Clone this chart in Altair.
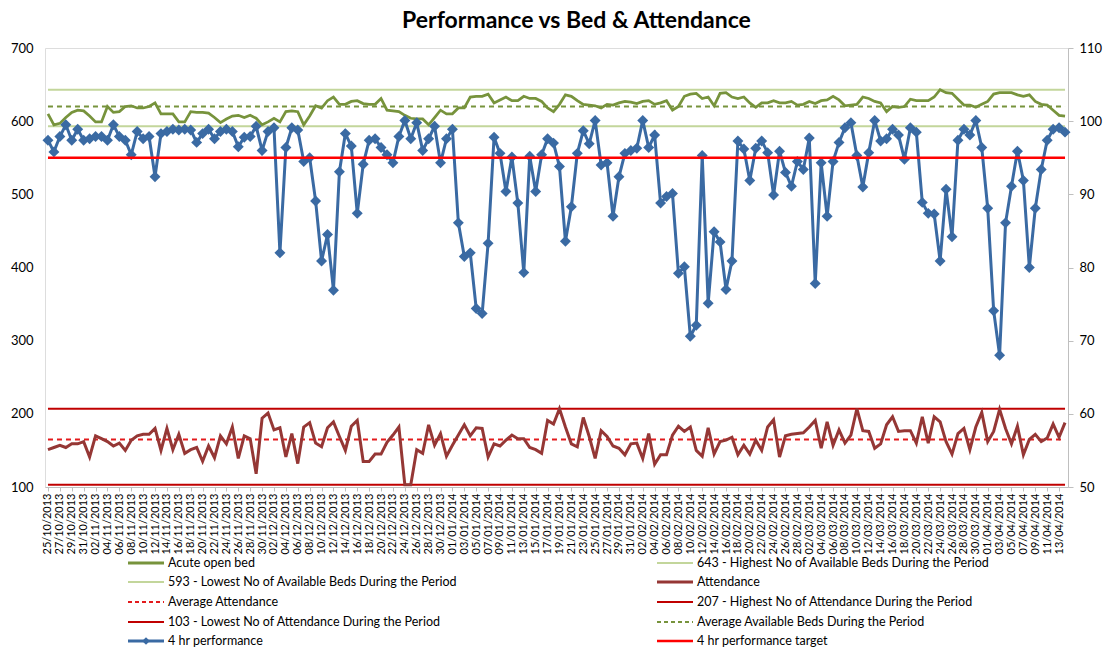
import altair as alt
import pandas as pd

# ---------------- data ----------------
dates = pd.date_range("2013-10-25", "2014-04-14", freq="D").strftime("%d/%m/%Y").tolist()

acute_open_bed = [
    610, 595, 597, 605, 612, 615, 614, 607, 599, 599,
    620, 612, 613, 620, 621, 618, 618, 620, 625, 610,
    610, 610, 599, 599, 613, 612, 612, 611, 605, 598,
    603, 607, 608, 605, 608, 604, 595, 599, 604, 599,
    613, 614, 613, 595, 607, 621, 618, 628, 633, 623,
    623, 627, 628, 624, 623, 623, 631, 615, 614, 613,
    608, 604, 603, 603, 595, 605, 615, 610, 610, 618,
    618, 633, 634, 634, 637, 625, 629, 633, 628, 628,
    634, 631, 631, 627, 618, 613, 623, 636, 634, 628,
    623, 622, 621, 618, 623, 622, 625, 627, 626, 624,
    627, 628, 623, 625, 628, 615, 620, 634, 637, 638,
    631, 633, 621, 638, 639, 633, 631, 633, 625, 619,
    625, 625, 628, 625, 625, 627, 622, 623, 627, 624,
    628, 629, 634, 629, 621, 622, 623, 633, 631, 627,
    625, 613, 620, 619, 620, 630, 628, 628, 628, 633,
    643, 639, 638, 630, 622, 622, 619, 623, 627, 637,
    639, 639, 639, 636, 634, 636, 627, 623, 622, 615,
    608, 607,
]

attendance = [
    151, 154, 157, 154, 159, 159, 162, 141, 170, 166,
    162, 156, 160, 150, 164, 170, 172, 172, 180, 150,
    180, 151, 172, 146, 151, 154, 135, 156, 140, 170,
    159, 182, 139, 170, 166, 118, 194, 201, 178, 181,
    141, 173, 132, 182, 188, 160, 155, 181, 189, 169,
    150, 183, 191, 135, 135, 145, 145, 161, 171, 182,
    103, 103, 151, 146, 185, 157, 173, 142, 157, 171,
    185, 170, 181, 180, 141, 159, 156, 164, 171, 166,
    166, 154, 151, 146, 191, 186, 207, 182, 159, 155,
    195, 169, 139, 177, 169, 156, 153, 144, 159, 160,
    139, 173, 131, 144, 144, 171, 183, 176, 182, 150,
    142, 181, 145, 162, 164, 168, 144, 157, 145, 164,
    150, 182, 192, 141, 170, 172, 173, 174, 182, 191,
    153, 189, 157, 178, 160, 171, 207, 177, 176, 153,
    159, 185, 196, 176, 177, 177, 160, 196, 160, 196,
    189, 162, 145, 173, 180, 151, 182, 202, 162, 176,
    206, 180, 159, 183, 144, 165, 172, 162, 167, 186,
    168, 188,
]

performance_4hr = [
    97.4, 95.8, 97.9, 99.5, 97.4, 98.9, 97.4, 97.6, 97.9, 97.9,
    97.4, 99.5, 97.9, 97.4, 95.4, 98.6, 97.6, 97.9, 92.4, 98.3,
    98.6, 98.9, 98.8, 98.9, 98.8, 97.1, 98.3, 98.9, 97.6, 98.6,
    98.9, 98.6, 96.5, 97.8, 97.9, 99.3, 96.0, 98.6, 99.1, 82.0,
    96.4, 99.1, 98.8, 94.5, 95.0, 89.1, 80.9, 84.5, 76.9, 93.1,
    98.3, 96.6, 87.4, 94.1, 97.4, 97.6, 96.4, 95.4, 94.3, 97.9,
    100.1, 97.6, 99.8, 96.0, 97.6, 99.3, 94.3, 97.6, 98.9, 86.1,
    81.5, 82.0, 74.4, 73.7, 83.3, 97.8, 95.6, 90.4, 95.1, 88.8,
    79.3, 95.2, 90.4, 95.4, 97.6, 97.0, 93.8, 83.6, 88.3, 95.6,
    98.7, 96.9, 100.1, 94.0, 94.3, 87.0, 92.4, 95.6, 96.0, 96.3,
    100.1, 96.4, 98.1, 88.8, 89.7, 90.1, 79.2, 80.1, 70.6, 72.1,
    95.3, 75.1, 84.9, 83.5, 77.0, 80.9, 97.3, 96.2, 91.9, 96.3,
    97.3, 95.7, 89.9, 95.9, 93.0, 91.1, 94.5, 93.4, 97.7, 77.8,
    94.3, 87.0, 94.5, 97.1, 99.1, 99.8, 95.3, 91.0, 95.7, 100.1,
    97.3, 97.6, 98.9, 98.1, 94.8, 99.1, 98.5, 88.9, 87.4, 87.3,
    80.9, 90.7, 84.2, 97.4, 98.9, 98.1, 100.1, 96.4, 88.1, 74.1,
    68.0, 86.1, 91.1, 95.9, 91.9, 80.0, 88.1, 93.4, 97.4, 98.9,
    99.1, 98.5,
]

BEDS_HIGH = 643
BEDS_LOW = 593
BEDS_AVG = 620
ATT_HIGH = 207
ATT_LOW = 103
ATT_AVG = 165
PERF_TARGET = 95

left_ticks = [100, 200, 300, 400, 500, 600, 700]
right_ticks = [50, 60, 70, 80, 90, 100, 110]

legend_labels = [
    "Acute open bed",
    "643 - Highest No of Available Beds During the Period",
    "593 - Lowest No of Available Beds During the Period",
    "Attendance",
    "Average Attendance",
    "207 - Highest No of Attendance During the Period",
    "103 - Lowest No of Attendance During the Period",
    "Average Available Beds During the Period",
    "4 hr performance",
    "4 hr performance target",
]

# ---------------- styles ----------------
FONT = "Lato"
C_BED = "#77933C"
C_BED_LIM = "#C3D69B"
C_ATT = "#953735"
C_ATT_LIM = "#C00000"
C_ATT_AVG = "#E31A1C"
C_PERF = "#3A6AA3"
C_TARGET = "#FF0000"

df = pd.DataFrame({
    "date": dates,
    "beds": acute_open_bed,
    "att": attendance,
    "perf": performance_4hr,
})

W, H = 1023, 439

x_enc = alt.X(
    "date:O",
    sort=dates,
    title=None,
    scale=alt.Scale(type="point", padding=0.5),
    axis=alt.Axis(
        values=dates[::2], labelAngle=-90, labelFont=FONT, labelFontSize=11,
        labelColor="#000000", domainColor="#BFBFBF", tickColor="#BFBFBF",
        tickSize=4, labelPadding=2, grid=False,
    ),
)

left_scale = alt.Scale(domain=[100, 700], nice=False, zero=False)
left_axis = alt.Axis(
    values=left_ticks, labelFont=FONT, labelFontSize=13, labelColor="#000000",
    domain=False, ticks=False, grid=False, labelPadding=12,
)
right_scale = alt.Scale(domain=[50, 110], nice=False, zero=False)
right_axis = alt.Axis(
    orient="right", values=right_ticks, labelFont=FONT, labelFontSize=13,
    labelColor="#000000", domainColor="#BFBFBF", tickColor="#BFBFBF",
    tickSize=5, grid=False, labelPadding=6,
)

base = alt.Chart(df)


def yl(field):
    return alt.Y(field, title=None, scale=left_scale, axis=left_axis)


def yl_const(v):
    return alt.YDatum(v, title=None, scale=left_scale, axis=left_axis)


def yr(field):
    return alt.Y(field, title=None, scale=right_scale, axis=right_axis)


def yr_const(v):
    return alt.YDatum(v, title=None, scale=right_scale, axis=right_axis)


left_layers = [
    base.mark_line(color=C_BED_LIM, strokeWidth=2).encode(x=x_enc, y=yl_const(BEDS_HIGH)),
    base.mark_line(color=C_BED_LIM, strokeWidth=2).encode(x=x_enc, y=yl_const(BEDS_LOW)),
    base.mark_line(color=C_BED, strokeWidth=2, strokeDash=[5, 4]).encode(x=x_enc, y=yl_const(BEDS_AVG)),
    base.mark_line(color=C_BED, strokeWidth=2.75).encode(x=x_enc, y=yl("beds:Q")),
    base.mark_line(color=C_ATT_LIM, strokeWidth=2).encode(x=x_enc, y=yl_const(ATT_HIGH)),
    base.mark_line(color=C_ATT_LIM, strokeWidth=2).encode(x=x_enc, y=yl_const(ATT_LOW)),
    base.mark_line(color=C_ATT_AVG, strokeWidth=2, strokeDash=[5, 4]).encode(x=x_enc, y=yl_const(ATT_AVG)),
    base.mark_line(color=C_ATT, strokeWidth=3).encode(x=x_enc, y=yl("att:Q")),
]

right_layers = [
    base.mark_line(color=C_PERF, strokeWidth=3).encode(x=x_enc, y=yr("perf:Q")),
    base.mark_point(shape="diamond", filled=True, color=C_PERF, size=120, opacity=1).encode(x=x_enc, y=yr("perf:Q")),
    base.mark_line(color=C_TARGET, strokeWidth=2.5).encode(x=x_enc, y=yr_const(PERF_TARGET)),
]

# ---------------- legend (drawn manually, two columns) ----------------
leg_style = [
    (C_BED, 3, None, False),
    (C_BED_LIM, 2, None, False),
    (C_BED_LIM, 2, None, False),
    (C_ATT, 3, None, False),
    (C_ATT_AVG, 2, [4, 3], False),
    (C_ATT_LIM, 2, None, False),
    (C_ATT_LIM, 2, None, False),
    (C_BED, 2, [4, 3], False),
    (C_PERF, 3, None, True),
    (C_TARGET, 2.5, None, False),
]
leg_layers = []
row_y = [515, 534, 554, 574, 593]
for k, (lab, (col, sw, dash, marker)) in enumerate(zip(legend_labels, leg_style)):
    c, r = k % 2, k // 2
    x0 = 83 if c == 0 else 612
    y0 = row_y[r]
    one = alt.Chart(pd.DataFrame({"label": [lab]}))
    rule_kwargs = dict(color=col, strokeWidth=sw)
    if dash:
        rule_kwargs["strokeDash"] = dash
    leg_layers.append(
        one.mark_rule(**rule_kwargs).encode(
            x=alt.value(x0), x2=alt.value(x0 + 36), y=alt.value(y0)
        )
    )
    if marker:
        leg_layers.append(
            one.mark_point(shape="diamond", filled=True, color=col, size=60, opacity=1).encode(
                x=alt.value(x0 + 18), y=alt.value(y0)
            )
        )
    leg_layers.append(
        one.mark_text(align="left", baseline="middle", font=FONT, fontSize=12.5, color="#000000").encode(
            x=alt.value(x0 + 40), y=alt.value(y0), text="label:N"
        )
    )

chart = (
    alt.layer(
        alt.layer(*left_layers),
        alt.layer(*right_layers),
        *leg_layers,
    )
    .resolve_scale(y="independent")
    .properties(
        width=W,
        height=H,
        autosize=alt.AutoSizeParams(type="none"),
        padding={"left": 37, "top": 40, "right": 35, "bottom": 162},
        title=alt.Title(
            "Performance vs Bed & Attendance",
            font=FONT, fontSize=23, fontWeight="bold", color="#000000",
            anchor="middle", dx=20, offset=9,
        ),
    )
    .configure_view(stroke=None)
    .configure(background="white")
)

chart.save("out.html", embed_options={"renderer": "svg", "actions": False})
